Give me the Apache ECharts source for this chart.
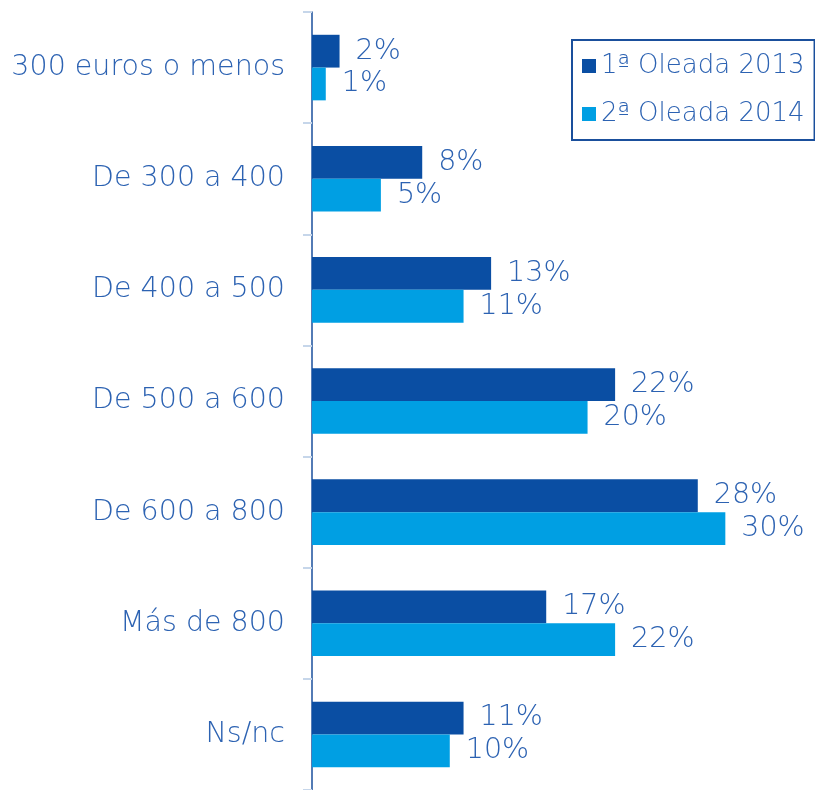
<!DOCTYPE html>
<html>
<head>
<meta charset="utf-8">
<script src="https://cdn.jsdelivr.net/npm/echarts@6/dist/echarts.min.js"></script>
<style>
html, body { margin: 0; padding: 0; background: #fff; }
#main { width: 815px; height: 790px; }
</style>
</head>
<body>
<div id="main"></div>
<script>
var categories = ['300 euros o menos', 'De 300 a 400', 'De 400 a 500', 'De 500 a 600', 'De 600 a 800', 'Más de 800', 'Ns/nc'];
var seriesNames = ['1ª Oleada 2013', '2ª Oleada 2014'];
var oleada2013 = [2, 8, 13, 22, 28, 17, 11];
var oleada2014 = [1, 5, 11, 20, 30, 22, 10];

var textBlue = '#2c62b2';
var fontFam = '"DejaVu Sans", sans-serif';
var fontW = 200;

var myChart = echarts.init(document.getElementById('main'));
var option = {
    animation: false,
    textStyle: { fontFamily: fontFam },
    color: ['#0a4ea3', '#009fe3'],
    legend: {
        orient: 'vertical',
        left: 572,
        top: 40,
        padding: [11, 10, 11, 10],
        borderColor: '#1a4f9c',
        borderWidth: 2,
        itemWidth: 14,
        itemHeight: 14,
        itemGap: 18,
        icon: 'rect',
        textStyle: { color: textBlue, fontSize: 26, lineHeight: 30, fontWeight: fontW, fontFamily: fontFam },
        data: seriesNames
    },
    grid: {
        left: 312,
        right: 7,
        top: 12,
        bottom: -6,
        containLabel: false
    },
    xAxis: {
        type: 'value',
        min: 0,
        max: 36,
        show: false
    },
    yAxis: {
        type: 'category',
        inverse: true,
        data: categories,
        axisLine: { show: true, lineStyle: { color: '#1a4f9c', width: 1.5 } },
        axisTick: { show: true, length: 9, lineStyle: { color: '#c6d6ea', width: 2 } },
        axisLabel: { color: textBlue, fontSize: 28.5, fontWeight: fontW, margin: 27, fontFamily: fontFam }
    },
    series: [
        {
            name: seriesNames[0],
            type: 'bar',
            data: oleada2013,
            barGap: '0%',
            barCategoryGap: '41%',
            label: { show: true, position: 'right', distance: 16, formatter: '{c}%', color: textBlue, fontSize: 28.5, fontWeight: fontW, fontFamily: fontFam }
        },
        {
            name: seriesNames[1],
            type: 'bar',
            data: oleada2014,
            barGap: '0%',
            barCategoryGap: '41%',
            label: { show: true, position: 'right', distance: 16, formatter: '{c}%', color: textBlue, fontSize: 28.5, fontWeight: fontW, fontFamily: fontFam }
        }
    ]
};
option && myChart.setOption(option);
</script>
</body>
</html>
